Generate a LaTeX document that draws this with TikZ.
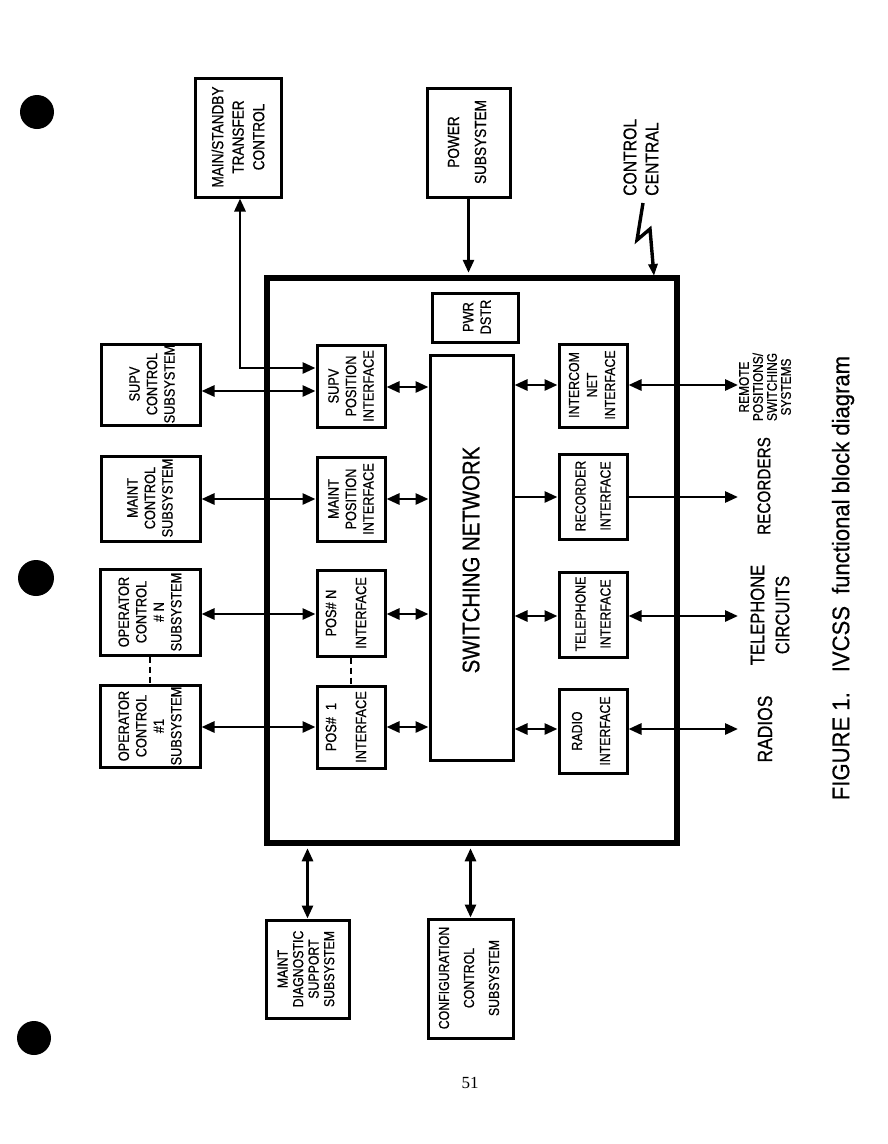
\documentclass[tikz,border=0pt]{standalone}
\usepackage{fontspec}
\setmainfont{Liberation Sans}
\newfontfamily\cond[FakeStretch=0.85,FakeBold=0.7]{Liberation Sans}
\newfontfamily\capfam[FakeStretch=0.92,FakeBold=0.5]{Liberation Sans}
\newfontfamily\pagefam{Liberation Serif}
\usetikzlibrary{arrows.meta,fit}
\begin{document}
\begin{tikzpicture}[x=1pt,y=-1pt,
  box/.style={draw, line width=3pt, inner sep=0pt},
  bigbox/.style={draw, line width=5.5pt, inner sep=0pt},
  txt/.style={rotate=90, align=center, inner sep=0pt, font=\cond\fontsize{15}{#1}\selectfont},
  txt/.default=17.5,
  lbl/.style={rotate=90, align=center, inner sep=0pt},
  conn/.style={line width=2.8pt},
  >={Triangle[length=13pt,width=11pt]}]
\useasboundingbox (0,0) rectangle (887,1144);

% punch holes
\fill (37,112) circle (17);
\fill (36,578) circle (18);
\fill (34,1038) circle (17);

% outer control central box
\node[bigbox, fit={(267,278) (677,843)}] (cc) {};

% boxes
\node[box, fit={(195,78) (281,197)}] (ms) {};
\node[box, fit={(427,88) (510,197)}] (power) {};
\node[box, fit={(101,344) (200,425)}] (supvc) {};
\node[box, fit={(101,456) (200,541)}] (maintc) {};
\node[box, fit={(100,569) (200,655)}] (opn) {};
\node[box, fit={(100,685) (200,767)}] (op1) {};
\node[box, fit={(317,345) (385,427)}] (supvi) {};
\node[box, fit={(317,457) (385,541)}] (mainti) {};
\node[box, fit={(317,570) (385,656)}] (posn) {};
\node[box, fit={(317,686) (385,768)}] (pos1) {};
\node[box, fit={(430,355) (513,760)}] (sw) {};
\node[box, fit={(432,293) (518,342)}] (pwr) {};
\node[box, fit={(559,344) (627,427)}] (icom) {};
\node[box, fit={(559,454) (627,539)}] (rec) {};
\node[box, fit={(559,572) (627,657)}] (tel) {};
\node[box, fit={(559,689) (627,773)}] (rad) {};
\node[box, fit={(266,920) (349,1018)}] (diag) {};
\node[box, fit={(428,919) (513,1038)}] (conf) {};

% box texts
\node[txt, font=\cond\fontsize{16}{20.5}\selectfont] (ms-t) at (238,137) {MAIN/STANDBY\\TRANSFER\\CONTROL};
\node[txt, font=\cond\fontsize{16}{27}\selectfont] (power-t) at (467,142) {POWER\\SUBSYSTEM};
\node[txt] (supvc-t) at (152,384) {SUPV\\CONTROL\\SUBSYSTEM};
\node[txt] (maintc-t) at (150,498) {MAINT\\CONTROL\\SUBSYSTEM};
\node[txt] (opn-t) at (150,612) {OPERATOR\\CONTROL\\\# N\\SUBSYSTEM};
\node[txt] (op1-t) at (150,726) {OPERATOR\\CONTROL\\\#1\\SUBSYSTEM};
\node[txt] (supvi-t) at (351,386) {SUPV\\POSITION\\INTERFACE};
\node[txt] (mainti-t) at (351,499) {MAINT\\POSITION\\INTERFACE};
\node[txt=30] (posn-t) at (346,613) {POS\# N\\INTERFACE};
\node[txt=30] (pos1-t) at (346,727) {POS\#\ \ 1\\INTERFACE};
\node[lbl, font=\cond\fontsize{24}{27}\selectfont] (sw-t) at (471,560) {SWITCHING NETWORK};
\node[txt] (pwr-t) at (477,317) {PWR\\DSTR};
\node[txt, font=\cond\fontsize{14.5}{18}\selectfont] (icom-t) at (592,385) {INTERCOM\\NET\\INTERFACE};
\node[txt=25, font=\cond\fontsize{14.5}{25}\selectfont] (rec-t) at (593,496) {RECORDER\\INTERFACE};
\node[txt=25, font=\cond\fontsize{14.5}{25}\selectfont] (tel-t) at (593,614) {TELEPHONE\\INTERFACE};
\node[txt=28, font=\cond\fontsize{14.5}{28}\selectfont] (rad-t) at (591,731) {RADIO\\INTERFACE};
\node[txt, font=\cond\fontsize{14.5}{15.5}\selectfont] (diag-t) at (306,969) {MAINT\\DIAGNOSTIC\\SUPPORT\\SUBSYSTEM};
\node[txt, font=\cond\fontsize{14.5}{25}\selectfont] (conf-t) at (469,978) {CONFIGURATION\\CONTROL\\SUBSYSTEM};

% outside labels
\node[lbl, anchor=west, align=left, font=\cond\fontsize{18.5}{22}\selectfont] (ccl) at (641,196) {CONTROL\\CENTRAL};
\node[lbl, font=\cond\fontsize{14}{14}\selectfont] (remote) at (765,387) {REMOTE\\POSITIONS/\\SWITCHING\\SYSTEMS};
\node[lbl, font=\cond\fontsize{18}{22}\selectfont] (recs) at (764,486) {RECORDERS};
\node[lbl, font=\cond\fontsize{19.5}{25}\selectfont] (tels) at (770,615) {TELEPHONE\\CIRCUITS};
\node[lbl, font=\cond\fontsize{20.5}{24}\selectfont] (radios) at (765,729) {RADIOS};
\node[lbl, font=\capfam\fontsize{24}{28}\selectfont] (cap) at (843,578) {FIGURE 1.\hspace{20pt}IVCSS\hspace{12pt}functional block diagram};
\node[font=\pagefam\fontsize{17}{20}\selectfont] (pg) at (470,1083) {51};

% row coordinates
\coordinate (ra1) at (0,391);
\coordinate (rb1) at (0,387);
\coordinate (rc1) at (0,385);
\coordinate (ra2) at (0,499);
\coordinate (rc2) at (0,497);
\coordinate (ra3) at (0,614);
\coordinate (rc3) at (0,616);
\coordinate (ra4) at (0,727);
\coordinate (rc4) at (0,729);
\coordinate (ext) at (738,0);
\coordinate (mscorner) at (240,368);

% connectors
\draw[conn,<->] (ms.south -| mscorner) -- (mscorner) -- (supvi.west |- mscorner);
\draw[conn,->,shorten >=2.5pt] (power.south) -- (cc.north -| power.south);
\draw[conn,<->,shorten <=2.5pt] (cc.south -| diag.north) -- (diag.north);
\draw[conn,<->,shorten <=2.5pt] (cc.south -| conf.north) -- (conf.north);

\draw[conn,<->] (supvc.east |- ra1) -- (supvi.west |- ra1);
\draw[conn,<->] (supvi.east |- rb1) -- (sw.west |- rb1);
\draw[conn,<->] (sw.east |- rc1) -- (icom.west |- rc1);
\draw[conn,<->] (icom.east |- rc1) -- (ext |- rc1);

\draw[conn,<->] (maintc.east |- ra2) -- (mainti.west |- ra2);
\draw[conn,<->] (mainti.east |- ra2) -- (sw.west |- ra2);
\draw[conn,->] (sw.east |- rc2) -- (rec.west |- rc2);
\draw[conn,->] (rec.east |- rc2) -- (ext |- rc2);

\draw[conn,<->] (opn.east |- ra3) -- (posn.west |- ra3);
\draw[conn,<->] (posn.east |- ra3) -- (sw.west |- ra3);
\draw[conn,<->] (sw.east |- rc3) -- (tel.west |- rc3);
\draw[conn,<->] (tel.east |- rc3) -- (ext |- rc3);

\draw[conn,<->] (op1.east |- ra4) -- (pos1.west |- ra4);
\draw[conn,<->] (pos1.east |- ra4) -- (sw.west |- ra4);
\draw[conn,<->] (sw.east |- rc4) -- (rad.west |- rc4);
\draw[conn,<->] (rad.east |- rc4) -- (ext |- rc4);

% dashed continuations
\draw[line width=2.2pt, dash pattern=on 6pt off 4pt] (opn.south) -- (op1.north);
\draw[line width=2.2pt, dash pattern=on 6pt off 4pt] (posn.south) -- (pos1.north);

% lightning bolt
\coordinate (b1) at (643,203);
\coordinate (b2) at (637,240);
\coordinate (b3) at (650,229);
\coordinate (b4) at (654,276);
\draw[line width=3.4pt, line join=miter, -{Triangle[length=12pt,width=9pt]}] (b1) -- (b2) -- (b3) -- (b4);
\end{tikzpicture}
\end{document}
